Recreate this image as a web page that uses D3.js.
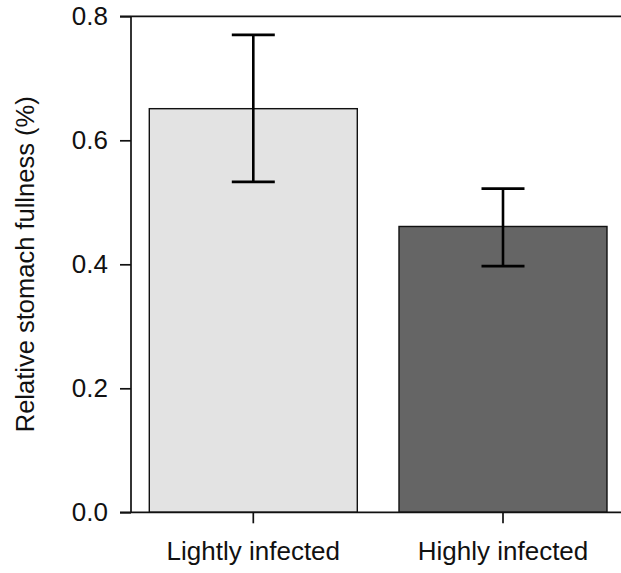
<!DOCTYPE html>
<html>
<head>
<meta charset="utf-8">
<title>Relative stomach fullness</title>
<style>
  body { margin: 0; padding: 0; background: #fff; }
  svg { display: block; }
  text { font-family: "Liberation Sans", Arial, sans-serif; fill: #111; }
</style>
</head>
<body>
<div id="chart"></div>
<script src="https://d3js.org/d3.v7.min.js"></script>
<script>
// data
var groups = ["Lightly infected", "Highly infected"];
var means  = [0.651, 0.461];
var lower  = [0.533, 0.397];
var upper  = [0.770, 0.522];
var colors = ["#e3e3e3", "#656565"];
var yTicks = [0.0, 0.2, 0.4, 0.6, 0.8];

var width = 621, height = 573;
var plotLeft = 131, plotTop = 16.3, plotBottom = 512.3, plotRight = 625.3;
var fontSize = "26px";

var svg = d3.select("#chart").append("svg")
    .attr("width", width)
    .attr("height", height);

var x = d3.scaleBand()
    .domain(groups)
    .range([plotLeft, plotRight])
    .paddingInner(0.167)
    .paddingOuter(0.0733);

var y = d3.scaleLinear()
    .domain([0, 0.8])
    .range([plotBottom, plotTop]);

// bars
svg.selectAll("rect.bar")
    .data(groups)
  .enter().append("rect")
    .attr("class", "bar")
    .attr("x", function(d) { return x(d); })
    .attr("y", function(d, i) { return y(means[i]); })
    .attr("width", x.bandwidth())
    .attr("height", function(d, i) { return y(0) - y(means[i]); })
    .attr("fill", function(d, i) { return colors[i]; })
    .attr("stroke", "#111")
    .attr("stroke-width", 1.4);

// error bars
var cap = 21.5;
var eb = svg.selectAll("g.err")
    .data(groups)
  .enter().append("g")
    .attr("class", "err")
    .attr("stroke", "#000")
    .attr("stroke-width", 2.6);

eb.append("line")
    .attr("x1", function(d) { return x(d) + x.bandwidth() / 2; })
    .attr("x2", function(d) { return x(d) + x.bandwidth() / 2; })
    .attr("y1", function(d, i) { return y(lower[i]); })
    .attr("y2", function(d, i) { return y(upper[i]); });

eb.append("line")
    .attr("x1", function(d) { return x(d) + x.bandwidth() / 2 - cap; })
    .attr("x2", function(d) { return x(d) + x.bandwidth() / 2 + cap; })
    .attr("y1", function(d, i) { return y(upper[i]); })
    .attr("y2", function(d, i) { return y(upper[i]); });

eb.append("line")
    .attr("x1", function(d) { return x(d) + x.bandwidth() / 2 - cap; })
    .attr("x2", function(d) { return x(d) + x.bandwidth() / 2 + cap; })
    .attr("y1", function(d, i) { return y(lower[i]); })
    .attr("y2", function(d, i) { return y(lower[i]); });

// y axis
var yAxis = svg.append("g")
    .attr("transform", "translate(" + plotLeft + ",0)")
    .call(d3.axisLeft(y).tickValues(yTicks).tickFormat(d3.format(".1f")).tickSize(11).tickPadding(12));
yAxis.select(".domain").remove();
yAxis.selectAll("line").attr("stroke", "#111").attr("stroke-width", 1.7);
yAxis.selectAll("text").style("font-size", fontSize).attr("fill", "#111");

// x axis ticks
var xAxis = svg.append("g")
    .attr("transform", "translate(0," + plotBottom + ")")
    .call(d3.axisBottom(x).tickSize(11).tickPadding(18));
xAxis.select(".domain").remove();
xAxis.selectAll("line").attr("stroke", "#111").attr("stroke-width", 1.7);
xAxis.selectAll("text").style("font-size", fontSize).attr("fill", "#111");

// frame: left, top, bottom
svg.append("line")
    .attr("x1", plotLeft).attr("x2", plotLeft)
    .attr("y1", plotTop).attr("y2", plotBottom)
    .attr("stroke", "#111").attr("stroke-width", 1.7);
svg.append("line")
    .attr("x1", plotLeft - 11).attr("x2", width)
    .attr("y1", plotTop).attr("y2", plotTop)
    .attr("stroke", "#111").attr("stroke-width", 1.7);
svg.append("line")
    .attr("x1", plotLeft - 11).attr("x2", width)
    .attr("y1", plotBottom).attr("y2", plotBottom)
    .attr("stroke", "#111").attr("stroke-width", 1.7);

// y title
svg.append("text")
    .attr("transform", "translate(34," + ((plotTop + plotBottom) / 2) + ") rotate(-90)")
    .attr("text-anchor", "middle")
    .style("font-size", "25.5px")
    .text("Relative stomach fullness (%)");
</script>
</body>
</html>
